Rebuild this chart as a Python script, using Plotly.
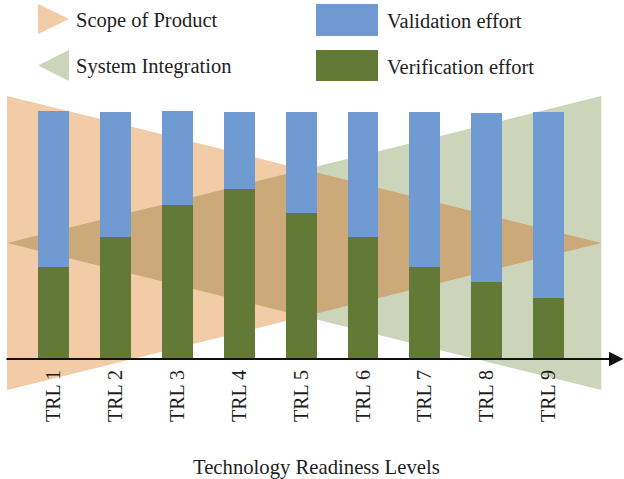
import numpy as np
import plotly.graph_objects as go

# ---- data ----
categories = ["TRL 1", "TRL 2", "TRL 3", "TRL 4", "TRL 5", "TRL 6", "TRL 7", "TRL 8", "TRL 9"]
verification_effort = [37, 49, 62, 68.5, 59, 49, 37, 31, 24.5]
validation_effort = [63, 50.5, 38, 31, 40.5, 50.5, 62.5, 68, 75]

# background "scope" triangles (x in category-index units, y in effort units)
scope_left_x = -0.75      # wide edge of Scope of Product (left)
integ_right_x = 8.85      # wide edge of System Integration (right)
tri_top = 106.0
tri_bottom = -12.5
tri_apex = 46.8

legend_labels = ["Scope of Product", "System Integration", "Validation effort", "Verification effort"]
axis_title = "Technology Readiness Levels"

# ---- styling ----
W, H = 624, 479
FONT = "Liberation Serif, Times New Roman, serif"
TXT = "#1e1e1e"
C_SCOPE = "#F2CBA7"
C_INTEG = "#CCD4BA"
C_OVER = "#CBA978"
C_VAL = "#6F9BD2"
C_VER = "#627A35"

x_idx = list(range(len(categories)))

fig = go.Figure()
fig.add_trace(go.Bar(x=x_idx, y=verification_effort, name=legend_labels[3],
                     marker=dict(color=C_VER, line=dict(width=0)), width=0.5, showlegend=False))
fig.add_trace(go.Bar(x=x_idx, y=validation_effort, name=legend_labels[2],
                     marker=dict(color=C_VAL, line=dict(width=0)), width=0.5, showlegend=False))

# triangles geometry
scope_pts = [(scope_left_x, tri_top), (scope_left_x, tri_bottom), (integ_right_x, tri_apex)]
integ_pts = [(integ_right_x, tri_top), (integ_right_x, tri_bottom), (scope_left_x, tri_apex)]


def intersect(p1, p2, p3, p4):
    a = np.array(p1, float); b = np.array(p2, float)
    c = np.array(p3, float); d = np.array(p4, float)
    r = b - a; s = d - c
    t = np.cross(c - a, s) / np.cross(r, s)
    return tuple(a + t * r)


top_cross = intersect(scope_pts[0], scope_pts[2], integ_pts[0], integ_pts[2])
bot_cross = intersect(scope_pts[1], scope_pts[2], integ_pts[1], integ_pts[2])
overlap_pts = [(scope_left_x, tri_apex), top_cross, (integ_right_x, tri_apex), bot_cross]


def path(pts):
    return "M " + " L ".join(f"{x},{y}" for x, y in pts) + " Z"


shapes = []
for pts, col in [(scope_pts, C_SCOPE), (integ_pts, C_INTEG), (overlap_pts, C_OVER)]:
    shapes.append(dict(type="path", path=path(pts), xref="x", yref="y",
                       fillcolor=col, line=dict(width=0), layer="below"))


def pxx(x):
    return x / W


def pyy(y):
    return 1 - y / H


# legend drawn manually
shapes.append(dict(type="path", xref="paper", yref="paper", layer="above",
                   path=path([(pxx(38), pyy(4)), (pxx(38), pyy(34)), (pxx(69), pyy(19))]),
                   fillcolor=C_SCOPE, line=dict(width=0)))
shapes.append(dict(type="path", xref="paper", yref="paper", layer="above",
                   path=path([(pxx(69), pyy(50)), (pxx(69), pyy(81)), (pxx(38), pyy(65.5))]),
                   fillcolor=C_INTEG, line=dict(width=0)))
shapes.append(dict(type="rect", xref="paper", yref="paper", x0=pxx(316), x1=pxx(378),
                   y0=pyy(36), y1=pyy(4), fillcolor=C_VAL, line=dict(width=0)))
shapes.append(dict(type="rect", xref="paper", yref="paper", x0=pxx(316), x1=pxx(378),
                   y0=pyy(81), y1=pyy(50), fillcolor=C_VER, line=dict(width=0)))

annotations = []
for lbl, x, y in [(legend_labels[0], 74, 20), (legend_labels[1], 74, 66),
                  (legend_labels[2], 385, 21), (legend_labels[3], 385, 67)]:
    annotations.append(dict(text=lbl, x=pxx(x), y=pyy(y), xref="paper", yref="paper",
                            xanchor="left", yanchor="middle", showarrow=False,
                            font=dict(family=FONT, size=20.5, color=TXT)))

annotations.append(dict(text=axis_title, x=pxx(316), y=pyy(467), xref="paper", yref="paper",
                        xanchor="center", yanchor="middle", showarrow=False,
                        font=dict(family=FONT, size=20.7, color=TXT)))

# x axis arrow
px_per_unit_x = 61.9
x_min = -53.5 / px_per_unit_x
x_max = (W - 53.5) / px_per_unit_x
annotations.append(dict(x=x_max - 0.01, y=0, ax=(5 - 53.5) / px_per_unit_x, ay=0,
                        xref="x", yref="y", axref="x", ayref="y", text="",
                        showarrow=True, arrowhead=2, arrowsize=1.6, arrowwidth=1.8,
                        arrowcolor="#111111"))

px_per_unit_y = 2.48
y_top = 359 / px_per_unit_y
y_bot = (359 - H) / px_per_unit_y

fig.update_layout(
    width=W, height=H,
    margin=dict(l=0, r=0, t=0, b=0),
    barmode="stack",
    bargap=0.5,
    paper_bgcolor="white", plot_bgcolor="white",
    showlegend=False,
    shapes=shapes,
    annotations=annotations,
    font=dict(family=FONT, color=TXT),
    xaxis=dict(range=[x_min, x_max], tickvals=x_idx, ticktext=categories,
               tickangle=-90, ticks="outside", ticklen=2, tickcolor="rgba(0,0,0,0)",
               showgrid=False, zeroline=False, showline=False,
               anchor="free", position=(H - 359) / H, automargin=False,
               tickfont=dict(family=FONT, size=20, color=TXT)),
    yaxis=dict(range=[y_bot, y_top], visible=False, showgrid=False, zeroline=False),
)

fig.write_html("out.html", config={"displayModeBar": False},
               post_script="document.body.style.margin='0';document.body.style.overflow='hidden';")
